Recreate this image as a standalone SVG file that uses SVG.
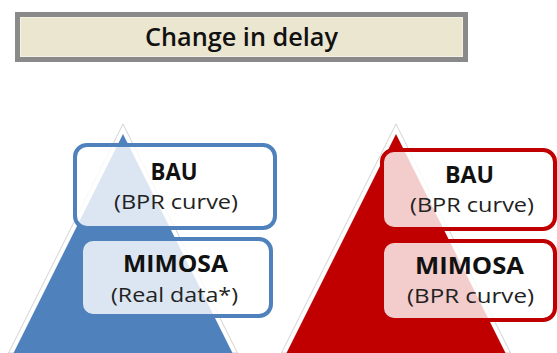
<svg xmlns="http://www.w3.org/2000/svg" width="557" height="353" viewBox="0 0 557 353">
<style>
.halo{fill:#fff;stroke:#c8c8c8;stroke-width:0.8}
.box{fill:#fff;fill-opacity:0.8;stroke-width:4}
.blue{stroke:#4F81BD}
.red{stroke:#C00000}
.t{font-family:"Open Sans","Liberation Sans",sans-serif;fill:#111;text-anchor:middle}
.h{font-weight:bold;font-size:23px}
.s{font-size:20px;fill:#222}
</style>
<rect width="557" height="353" fill="#fff"/>
<g id="title">
<rect x="17.5" y="14.5" width="448" height="45" fill="#EBE6D0" stroke="#8A8A8A" stroke-width="5"/>
<rect x="20.5" y="17.5" width="442" height="39" fill="none" stroke="#F4F1E4" stroke-width="1"/>
<text class="t" x="241.5" y="46" font-size="26" font-weight="600" textLength="193" lengthAdjust="spacingAndGlyphs">Change in delay</text>
</g>
<g id="pyramid-left">
<polygon class="halo" points="123,124 8.5,353 237.5,353"/>
<polygon fill="#4F81BD" points="123,134 13.5,353 232.5,353"/>
</g>
<g id="pyramid-right">
<polygon class="halo" points="396,124 281.5,353 510.5,353"/>
<polygon fill="#C00000" points="396,134 286.5,353 505.5,353"/>
</g>
<g id="left-bau">
<rect class="box blue" x="75" y="145" width="200" height="83" rx="12"/>
<text class="t h" x="174" y="180" textLength="47" lengthAdjust="spacingAndGlyphs">BAU</text>
<text class="t s" x="176" y="209" textLength="124" lengthAdjust="spacingAndGlyphs">(BPR curve)</text>
</g>
<g id="left-mimosa">
<rect class="box blue" x="81" y="239" width="190" height="77" rx="12"/>
<text class="t h" x="175.5" y="272" textLength="105" lengthAdjust="spacingAndGlyphs">MIMOSA</text>
<text class="t s" x="174.5" y="302" textLength="127" lengthAdjust="spacingAndGlyphs">(Real data*)</text>
</g>
<g id="right-bau">
<rect class="box red" x="382" y="150" width="173" height="79" rx="12"/>
<text class="t h" x="469.5" y="183" textLength="49" lengthAdjust="spacingAndGlyphs">BAU</text>
<text class="t s" x="472" y="212" textLength="124" lengthAdjust="spacingAndGlyphs">(BPR curve)</text>
</g>
<g id="right-mimosa">
<rect class="box red" x="382" y="241" width="173" height="79" rx="12"/>
<text class="t h" x="469.5" y="274" textLength="109" lengthAdjust="spacingAndGlyphs">MIMOSA</text>
<text class="t s" x="470.5" y="303" textLength="127" lengthAdjust="spacingAndGlyphs">(BPR curve)</text>
</g>
</svg>
